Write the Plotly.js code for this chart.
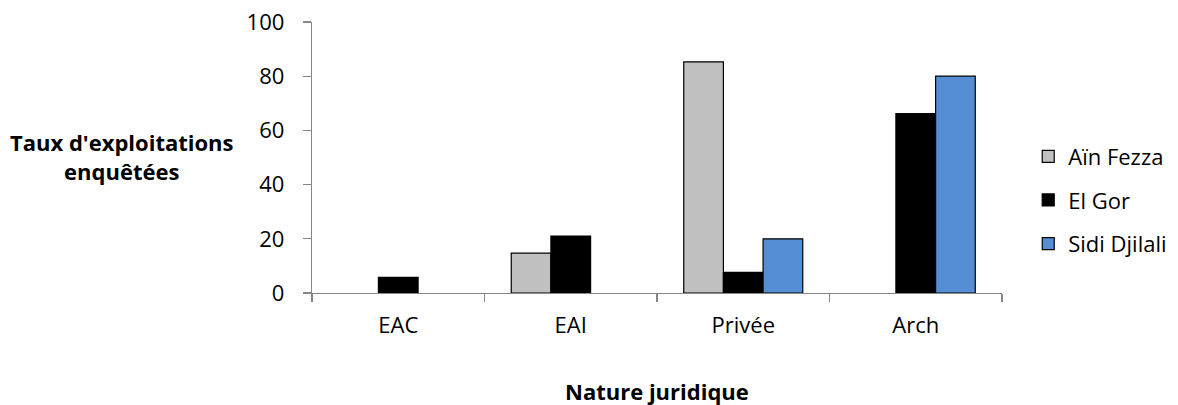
<!DOCTYPE html>
<html>
<head>
<meta charset="utf-8">
<script src="https://cdn.plot.ly/plotly-3.0.1.min.js"></script>
<style>html,body{margin:0;padding:0;background:#fff;}#chart{width:1178px;height:405px;}</style>
</head>
<body>
<div id="chart"></div>
<script>
const categories = ["EAC", "EAI", "Privée", "Arch"];
const seriesNames = ["Aïn Fezza", "El Gor", "Sidi Djilali"];
const ainFezza = [null, 14.7, 85.3, null];
const elGor = [5.8, 21.0, 7.6, 66.2];
const sidiDjilali = [null, null, 20.0, 80.0];
const yTicks = [0, 20, 40, 60, 80, 100];

const colors = ["#C0C0C0", "#000000", "#558ED5"];
const values = [ainFezza, elGor, sidiDjilali];
const FONT = "'Open Sans', sans-serif";

const traces = values.map((v, i) => ({
  type: "bar",
  name: seriesNames[i],
  x: categories,
  y: v,
  legendgroup: "g" + i,
  marker: { color: colors[i], line: { color: "#000000", width: 1.2 } },
  hoverinfo: "x+y+name"
}));

const layout = {
  width: 1178, height: 405,
  margin: { l: 312, r: 176, t: 22, b: 112, pad: 0, autoexpand: false },
  paper_bgcolor: "#ffffff", plot_bgcolor: "#ffffff",
  font: { family: FONT, size: 22, color: "#000000" },
  barmode: "group",
  bargap: 0.31,
  bargroupgap: 0,
  showlegend: true,
  legend: {
    x: 1.038, xanchor: "left", y: 0.343, yanchor: "middle",
    font: { family: FONT, size: 22, color: "#000000" },
    tracegroupgap: 12, itemwidth: 30
  },
  xaxis: {
    type: "category",
    showline: true, linecolor: "#868686", linewidth: 1.3,
    ticks: "outside", tickson: "boundaries", ticklen: 8, tickcolor: "#868686", tickwidth: 1.3,
    ticklabelstandoff: 12,
    showgrid: false, zeroline: false,
    tickfont: { family: FONT, size: 22 }
  },
  yaxis: {
    range: [0, 100],
    tickvals: yTicks,
    showline: true, linecolor: "#868686", linewidth: 1.3,
    ticks: "outside", ticklen: 8, tickcolor: "#868686", tickwidth: 1.3,
    ticklabelstandoff: 14,
    showgrid: false, zeroline: false,
    tickfont: { family: FONT, size: 22 }
  },
  annotations: [
    {
      text: "<b>Taux d'exploitations</b><br><b>enquêtées</b>",
      xref: "paper", yref: "paper", x: -0.276, y: 0.505,
      xanchor: "center", yanchor: "middle", showarrow: false,
      font: { family: FONT, size: 22, color: "#000000" }, align: "center"
    },
    {
      text: "<b>Nature juridique</b>",
      xref: "paper", yref: "paper", x: 0.5, y: -0.362,
      xanchor: "center", yanchor: "middle", showarrow: false,
      font: { family: FONT, size: 22, color: "#000000" }
    }
  ]
};

Plotly.newPlot("chart", traces, layout, { displayModeBar: false, staticPlot: true });
</script>
</body>
</html>
